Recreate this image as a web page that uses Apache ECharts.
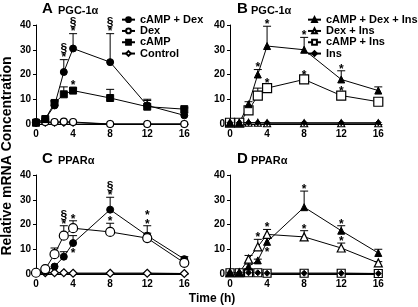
<!DOCTYPE html>
<html lang="en">
<head>
    <meta charset="UTF-8">
    <title>PGC-1a / PPARa mRNA</title>
    <script type="text/javascript" src="https://cdn.jsdelivr.net/npm/echarts@6/dist/echarts.min.js"></script>
    <style>
        html, body { margin: 0; padding: 0; background: #fff; }
    </style>
</head>
<body>
    <div id="main" style="width: 418px; height: 307px;"></div>
    <script type="text/javascript">
        var hours = [0, 1, 2, 3, 4, 8, 12, 16];
        var xTicks = [0, 4, 8, 12, 16];

        // panel A: PGC-1a, no insulin
        var aCampDex = [0.5, 2, 7.5, 21, 30.5, 25, 7.5, 3.5];
        var aCampDexTop = [null, null, 9, 26, 36.5, 36.5, 10, 4.5];
        var aDex = [0.8, 0.8, 0.8, 1, 0.8, 0, 0, 0];
        var aCamp = [0.5, 2, 8.5, 12, 13.5, 10.5, 7, 6];
        var aCampTop = [null, null, 9.5, 15, 14.5, 14, 9.5, 6.5];
        var aControl = [0.5, 0.5, 0.5, 0.5, 0.5, 0, 0, 0];
        var aMarks = [[3, 26, '§\n*'], [4, 36.5, '§\n*'], [8, 36.5, '§\n*'], [4, 14.8, '*']];

        // panel B: PGC-1a, with insulin
        var bAll = [0.5, 0.5, 8, 20, 31.5, 30, 18, 13.5];
        var bAllTop = [null, null, 9, 22, 39.5, 35, 21.5, 15];
        var bDexIns = [0.5, 0.5, 0.5, 0.5, 0.3, 0.3, 0.3, 0.3];
        var bCampIns = [0.5, 0.5, 5.5, 11.5, 14.5, 18, 11.5, 9];
        var bCampInsTop = [null, null, 6.5, 14.5, 15.5, 19, 12.5, null];
        var bIns = [0.5, 0.5, 0.5, 0.5, 0.5, 0.5, 0.5, 0.5];
        var bMarks = [[3, 22, '*'], [4, 39.5, '*'], [8, 35, '*'], [12, 21.5, '*'],
                      [4, 15.5, '*'], [8, 19, '*'], [12, 12.5, '*']];

        // panel C: PPARa, no insulin
        var cCampDex = [0.5, 1, 3, 7, 12.5, 26, 15.5, 6];
        var cCampDexTop = [null, null, null, 9, 15.5, 31, 19.5, 7];
        var cDex = [0.5, 2, 8, 15.5, 18.5, 17, 14.5, 4.5];
        var cDexTop = [null, null, 10.5, 19.5, 21.5, 20.5, 16.5, 5.5];
        var cCamp = [0.5, 0.5, 0.5, 0.5, 0.3, 0.3, 0.3, 0.2];
        var cControl = [0.5, 0.5, 0.5, 0.5, 0.3, 0.3, 0.3, 0.2];
        var cMarks = [[3, 19.5, '§\n*'], [4, 21.5, '*'], [8, 20.5, '*'],
                      [8, 31, '§\n*'], [12, 19.5, '*\n*'], [4, 7.5, '*']];

        // panel D: PPARa, with insulin
        var dAll = [0.5, 0.5, 3, 5.5, 13, 27, 17.5, 8.5];
        var dAllTop = [null, null, 4, 6, 15, 33.5, 19.5, 10];
        var dDexIns = [0.5, 0.5, 6, 11, 16, 15, 10.5, 4.5];
        var dDexInsTop = [null, null, 7.5, 14, 18, 17.5, 12.5, 5];
        var dCampIns = [0.5, 0.5, 0.5, 0.5, 0.3, 0.3, 0.3, 0.2];
        var dIns = [0.5, 0.5, 0.5, 0.5, 0.3, 0.3, 0.3, 0.2];
        var dMarks = [[3, 14, '*'], [4, 18, '*'], [8, 17.5, '*'], [12, 12.5, '*'],
                      [8, 33.5, '*'], [12, 19.5, '*'], [4, 8, '*']];

        var legendNoIns = ['cAMP + Dex', 'Dex', 'cAMP', 'Control'];
        var legendIns = ['cAMP + Dex + Ins', 'Dex + Ins', 'cAMP + Ins', 'Ins'];

        var FONT = '"Liberation Sans", Arial, sans-serif';

        var chartDom = document.getElementById('main');
        var myChart = echarts.init(chartDom);

        var grids = [
            { left: 36, top: 25, width: 152, height: 99 },
            { left: 230, top: 25, width: 152, height: 99 },
            { left: 36, top: 175, width: 152, height: 99 },
            { left: 230, top: 175, width: 152, height: 99 }
        ];

        function pairs(vals) {
            return hours.map(function (h, i) { return [h, vals[i]]; });
        }

        function lineSeries(name, gi, vals, symbol, filled, size) {
            return {
                name: name,
                type: 'line',
                xAxisIndex: gi,
                yAxisIndex: gi,
                data: pairs(vals),
                symbol: symbol,
                symbolSize: size,
                showAllSymbol: true,
                clip: false,
                z: 3,
                lineStyle: { color: '#000', width: 1 },
                itemStyle: filled ? { color: '#000', borderColor: '#000', borderWidth: 1 }
                                  : { color: '#fff', borderColor: '#000', borderWidth: 1.2 },
                emphasis: { disabled: true }
            };
        }

        function errSeries(gi, vals, tops) {
            var d = [];
            hours.forEach(function (h, i) {
                if (tops[i] != null) d.push([h, tops[i], vals[i]]);
            });
            return {
                type: 'custom',
                xAxisIndex: gi,
                yAxisIndex: gi,
                z: 2,
                silent: true,
                clip: false,
                data: d,
                renderItem: function (params, api) {
                    var p = api.coord([api.value(0), api.value(2)]);
                    var t = api.coord([api.value(0), api.value(1)]);
                    var st = { stroke: '#000', lineWidth: 1 };
                    return {
                        type: 'group',
                        children: [
                            { type: 'line', shape: { x1: p[0], y1: p[1], x2: t[0], y2: t[1] }, style: st },
                            { type: 'line', shape: { x1: t[0] - 4, y1: t[1], x2: t[0] + 4, y2: t[1] }, style: st }
                        ]
                    };
                }
            };
        }

        function markSeries(gi, marks) {
            return {
                type: 'custom',
                xAxisIndex: gi,
                yAxisIndex: gi,
                z: 4,
                silent: true,
                clip: false,
                data: marks.map(function (m) { return [m[0], m[1]]; }),
                renderItem: function (params, api) {
                    var c = api.coord([api.value(0), api.value(1)]);
                    return {
                        type: 'text',
                        x: c[0],
                        y: c[1] + 3,
                        style: {
                            text: marks[params.dataIndex][2],
                            align: 'center',
                            verticalAlign: 'bottom',
                            font: 'bold 12px ' + FONT,
                            lineHeight: 9,
                            fill: '#000'
                        }
                    };
                }
            };
        }

        var xAxes = grids.map(function (g, gi) {
            return {
                type: 'value',
                gridIndex: gi,
                min: 0,
                max: 16.4,
                interval: 4,
                splitLine: { show: false },
                axisLine: { lineStyle: { color: '#000', width: 1 } },
                axisTick: { show: false },
                axisLabel: {
                    color: '#000',
                    fontFamily: FONT,
                    fontWeight: 'bold',
                    fontSize: 10,
                    margin: 5,
                    showMaxLabel: false,
                    formatter: function (v) { return xTicks.indexOf(v) >= 0 ? String(v) : ''; }
                }
            };
        });

        var yAxes = grids.map(function (g, gi) {
            return {
                type: 'value',
                gridIndex: gi,
                min: 0,
                max: 40,
                interval: 10,
                splitLine: { show: false },
                axisLine: { show: true, lineStyle: { color: '#000', width: 1 } },
                axisTick: { show: true, length: 3, lineStyle: { color: '#000' } },
                axisLabel: {
                    color: '#000',
                    fontFamily: FONT,
                    fontWeight: 'bold',
                    fontSize: 10,
                    margin: 5
                }
            };
        });

        var series = [
            errSeries(0, aCampDex, aCampDexTop),
            errSeries(0, aCamp, aCampTop),
            lineSeries('Control', 0, aControl, 'diamond', false, 7),
            lineSeries('Dex', 0, aDex, 'circle', false, 7),
            lineSeries('cAMP', 0, aCamp, 'rect', true, 7),
            lineSeries('cAMP + Dex', 0, aCampDex, 'circle', true, 7),
            markSeries(0, aMarks),

            errSeries(1, bAll, bAllTop),
            errSeries(1, bCampIns, bCampInsTop),
            lineSeries('cAMP + Ins', 1, bCampIns, 'rect', false, 9),
            lineSeries('Dex + Ins', 1, bDexIns, 'triangle', false, 7),
            lineSeries('Ins', 1, bIns, 'diamond', true, 6),
            lineSeries('cAMP + Dex + Ins', 1, bAll, 'triangle', true, 7),
            markSeries(1, bMarks),

            errSeries(2, cCampDex, cCampDexTop),
            errSeries(2, cDex, cDexTop),
            lineSeries('cAMP', 2, cCamp, 'rect', true, 4),
            lineSeries('Control', 2, cControl, 'diamond', false, 8),
            lineSeries('cAMP + Dex', 2, cCampDex, 'circle', true, 7),
            lineSeries('Dex', 2, cDex, 'circle', false, 9),
            markSeries(2, cMarks),

            errSeries(3, dAll, dAllTop),
            errSeries(3, dDexIns, dDexInsTop),
            lineSeries('cAMP + Ins', 3, dCampIns, 'rect', false, 8),
            lineSeries('Ins', 3, dIns, 'diamond', true, 6),
            lineSeries('Dex + Ins', 3, dDexIns, 'triangle', false, 8),
            lineSeries('cAMP + Dex + Ins', 3, dAll, 'triangle', true, 7),
            markSeries(3, dMarks)
        ];

        function legendAt(names, left) {
            return {
                data: names,
                orient: 'vertical',
                left: left,
                top: 14,
                padding: 0,
                itemGap: 0,
                itemWidth: 13,
                itemHeight: 6,
                selectedMode: false,
                textStyle: {
                    color: '#000',
                    fontFamily: FONT,
                    fontWeight: 'bold',
                    fontSize: 11,
                    lineHeight: 11.3
                }
            };
        }

        function label(text, x, y, size) {
            return {
                type: 'text',
                x: x,
                y: y,
                style: {
                    text: text,
                    font: 'bold ' + size + 'px ' + FONT,
                    fill: '#000',
                    verticalAlign: 'bottom'
                }
            };
        }

        var option = {
            animation: false,
            backgroundColor: '#fff',
            grid: grids,
            xAxis: xAxes,
            yAxis: yAxes,
            legend: [legendAt(legendNoIns, 121), legendAt(legendIns, 307)],
            series: series,
            graphic: [
                label('A', 42, 16, 15), label('PGC-1α', 58, 16, 11),
                label('B', 237, 16, 15), label('PGC-1α', 251, 16, 11),
                label('C', 42, 166, 15), label('PPARα', 58, 166, 11),
                label('D', 237, 166, 15), label('PPARα', 251, 166, 11),
                {
                    type: 'text',
                    x: 7,
                    y: 156,
                    rotation: Math.PI / 2,
                    style: {
                        text: 'Relative mRNA Concentration',
                        font: 'bold 14px ' + FONT,
                        fill: '#000',
                        align: 'center',
                        verticalAlign: 'middle'
                    }
                },
                {
                    type: 'text',
                    x: 212,
                    y: 299,
                    style: {
                        text: 'Time (h)',
                        font: 'bold 12px ' + FONT,
                        fill: '#000',
                        align: 'center',
                        verticalAlign: 'middle'
                    }
                }
            ]
        };

        option && myChart.setOption(option);
    </script>
</body>
</html>
